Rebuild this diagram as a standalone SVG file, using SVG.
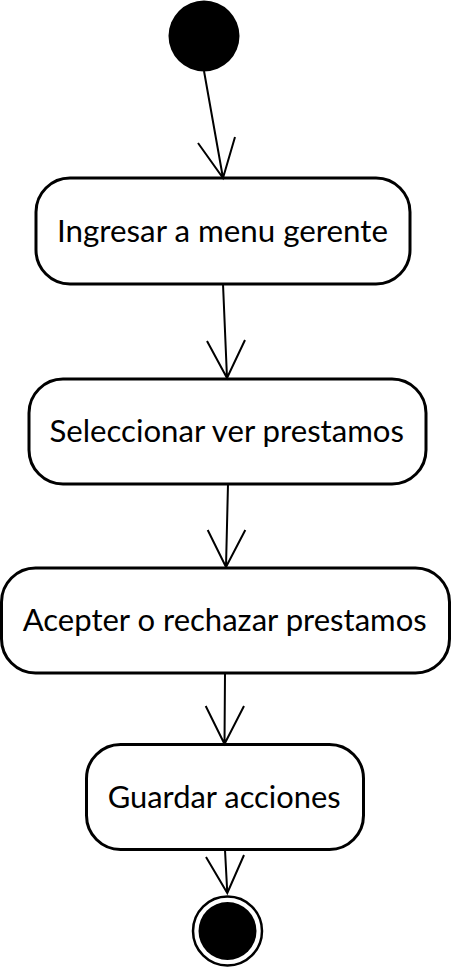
<svg xmlns="http://www.w3.org/2000/svg" width="451" height="967" viewBox="0 0 451 967">
<style>
.box{fill:#fff;stroke:#000;stroke-width:3}
.lbl{font-family:Lato,"Open Sans","Liberation Sans",sans-serif;font-size:30px;fill:#000}
.edge{fill:none;stroke:#000;stroke-width:2}
</style>
<rect width="451" height="967" fill="#fff"/>
<g id="start"><circle cx="204" cy="36" r="35.5" fill="#000"/></g>
<g id="n1"><rect class="box" x="36" y="178" width="374" height="106" rx="34"/><text class="lbl" x="57" y="242" textLength="331" lengthAdjust="spacingAndGlyphs">Ingresar a menu gerente</text></g>
<g id="n2"><rect class="box" x="29" y="379" width="397" height="105" rx="34"/><text class="lbl" x="49.5" y="442" textLength="354.5" lengthAdjust="spacingAndGlyphs">Seleccionar ver prestamos</text></g>
<g id="n3"><rect class="box" x="1.5" y="568" width="448" height="105" rx="34"/><text class="lbl" x="22.7" y="631" textLength="404" lengthAdjust="spacingAndGlyphs">Acepter o rechazar prestamos</text></g>
<g id="n4"><rect class="box" x="86.5" y="744.5" width="277" height="105" rx="34"/><text class="lbl" x="107.7" y="807.5" textLength="233" lengthAdjust="spacingAndGlyphs">Guardar acciones</text></g>
<g id="end"><circle cx="227.5" cy="931" r="34.5" fill="#fff" stroke="#000" stroke-width="2.5"/><circle cx="227.5" cy="931" r="29" fill="#000"/></g>
<g id="connectors">
<path class="edge" d="M204 71 L223 178 M198 143 L223 178 L235 137"/>
<path class="edge" d="M223 284 L227 378 M207 341 L227 378 L245 340"/>
<path class="edge" d="M228 484 L226 567 M207.7 530 L226 567 L245.3 530"/>
<path class="edge" d="M225 673 L224.5 744 M205.7 706 L224.5 744 L244 706"/>
<path class="edge" d="M225 850 L227.3 893 M206 857 L227.3 893 L244 855"/>
</g>
</svg>
